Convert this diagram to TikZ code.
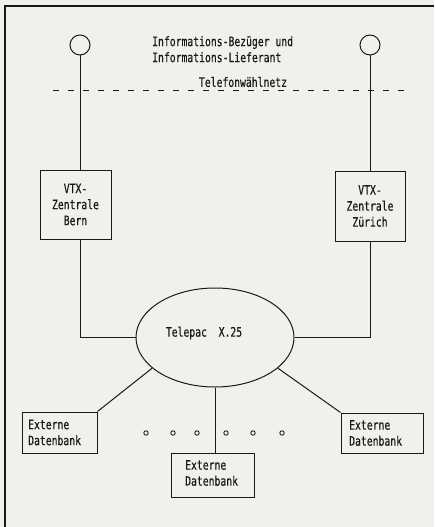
\documentclass[tikz,border=0pt]{standalone}
\usepackage{fontspec}
\usetikzlibrary{shapes.geometric}
\newfontfamily\plotter[FakeStretch=0.75,FakeBold=0.5]{DejaVu Sans Mono}
\definecolor{paper}{RGB}{240,240,237}
\definecolor{ink}{RGB}{25,25,25}
\tikzset{
  txt/.style={font=\plotter\fontsize{13}{16}\selectfont, text=ink, inner sep=0pt},
  box/.style={draw=ink, line width=1pt, rectangle, inner sep=0pt},
  term/.style={draw=ink, line width=1pt, circle, inner sep=0pt, minimum size=20pt},
  dot/.style={draw=ink, line width=0.9pt, circle, inner sep=0pt, minimum size=4.4pt},
  wire/.style={draw=ink, line width=1pt},
}
\begin{document}
\begin{tikzpicture}[x=1pt, y=-1pt]
\useasboundingbox (0,0) rectangle (434,527);
\fill[paper] (0,0) rectangle (434,527);
% frame
\draw[ink, line width=1.4pt] (5,527) -- (5,6) -- (434,6);

% terminals
\node[term] (cL) at (80,45) {};
\node[term] (cR) at (370,45) {};
\node[txt, anchor=north west, align=left] (info) at (152,36) {Informations-Bezüger und\\Informations-Lieferant};

% telephone network
\coordinate (dashA) at (53,90);
\coordinate (dashB) at (407,90);
\draw[wire, dash pattern=on 6pt off 9pt] (dashA) -- (dashB);
\node[txt] (telnet) at (243,82) {Telefonwählnetz};

% VTX centres
\node[box, minimum width=71pt, minimum height=69pt] (bern) at (75.5,204.5) {};
\node[txt, align=center] (bernT) at (bern.center) {VTX-\\Zentrale\\Bern};
\node[box, minimum width=70pt, minimum height=70pt] (zh) at (370,206) {};
\node[txt, align=center] (zhT) at (zh.center) {VTX-\\Zentrale\\Zürich};

% Telepac
\node[draw=ink, line width=1pt, ellipse, minimum width=158pt, minimum height=99pt, inner sep=0pt] (tp) at (215,337.5) {};
\node[txt] (tpT) at (204,333) {Telepac\ \ X.25};

% external databases
\node[box, minimum width=75pt, minimum height=41pt] (dbL) at (59.5,432.5) {};
\node[txt, anchor=west, align=left] (dbLT) at (28,432.5) {Externe\\Datenbank};
\node[box, minimum width=82pt, minimum height=40pt] (dbR) at (382,433) {};
\node[txt, anchor=west, align=left] (dbRT) at (349,433) {Externe\\Datenbank};
\node[box, minimum width=83pt, minimum height=44pt] (dbC) at (212.5,475) {};
\node[txt, anchor=west, align=left] (dbCT) at (185,473) {Externe\\Datenbank};

% dots
\foreach \x/\n in {146/1,173/2,197/3,226/4,253/5,282/6}
  \node[dot] (d\n) at (\x,433) {};

% connectors
\draw[wire] (cL.south) -- (cL.south |- bern.north);
\draw[wire] (cR.south) -- (zh.north);
\draw[wire] (cL.south |- bern.south) -- (cL.south |- tp.west) -- (tp.west);
\draw[wire] (zh.south) -- (zh.south |- tp.east) -- (tp.east);
\draw[wire] (tp.206) -- (dbL.north east);
\draw[wire] (tp.334) -- (dbR.north west);
\draw[wire] (tp.south) -- (tp.south |- dbC.north);
\end{tikzpicture}
\end{document}
